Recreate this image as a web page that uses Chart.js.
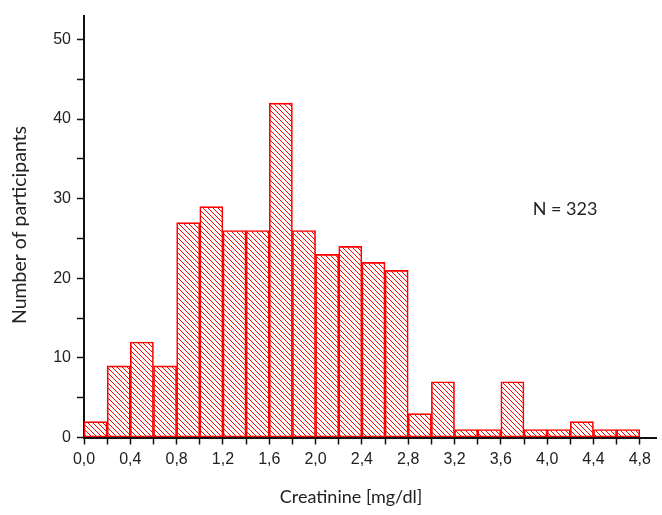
<!DOCTYPE html>
<html>
<head>
<meta charset="utf-8">
<script src="https://cdn.jsdelivr.net/npm/chart.js@4"></script>
<style>
  html, body { margin: 0; padding: 0; background: #fff; }
</style>
</head>
<body>
<canvas id="hist" width="662" height="515"></canvas>
<script>
// bin centres (bin width 0.2 mg/dl) and counts
var binCenters = [0.1, 0.3, 0.5, 0.7, 0.9, 1.1, 1.3, 1.5, 1.7, 1.9, 2.1, 2.3,
                  2.5, 2.7, 2.9, 3.1, 3.3, 3.5, 3.7, 3.9, 4.1, 4.3, 4.5, 4.7];
var counts = [2, 9, 12, 9, 27, 29, 26, 26, 42, 26, 23, 24,
              22, 21, 3, 7, 1, 1, 7, 1, 1, 2, 1, 1];
var xTitle = 'Creatinine [mg/dl]';
var yTitle = 'Number of participants';
var note = 'N = 323';

// diagonal hatch  \\\\  in red
function hatch(color) {
    var s = 5;
    var c = document.createElement('canvas');
    c.width = s; c.height = s;
    var g = c.getContext('2d');
    g.strokeStyle = color;
    g.lineWidth = 1;
    g.beginPath();
    g.moveTo(-1, -1); g.lineTo(s + 1, s + 1);
    g.moveTo(s - 1, -1); g.lineTo(s + 1, 1);
    g.moveTo(-1, s - 1); g.lineTo(1, s + 1);
    g.stroke();
    return g.createPattern(c, 'repeat');
}

var ctx = document.getElementById('hist').getContext('2d');

var labelsPlugin = {
    id: 'labels',
    afterDraw: function (chart) {
        var c = chart.ctx;
        c.save();
        c.fillStyle = '#222';
        c.textAlign = 'center';
        c.textBaseline = 'middle';
        c.font = '18px Lato';
        c.fillText(xTitle, 351, 497);
        c.fillText(note, 565, 209);
        c.font = '19.5px Lato';
        c.translate(20, 225);
        c.rotate(-Math.PI / 2);
        c.fillText(yTitle, 0, 0);
        c.restore();
    }
};

var points = binCenters.map(function (x, i) { return {x: x, y: counts[i]}; });

new Chart(ctx, {
    type: 'bar',
    data: {
        datasets: [{
            data: points,
            backgroundColor: hatch('#ff0000'),
            borderColor: '#ff0000',
            borderWidth: 1,
            borderSkipped: false,
            barPercentage: 1,
            categoryPercentage: 1
        }]
    },
    options: {
        responsive: false,
        animation: false,
        devicePixelRatio: 1,
        layout: { padding: { left: 0, right: 6, top: 9, bottom: 0 } },
        plugins: {
            legend: { display: false },
            tooltip: { enabled: false }
        },
        scales: {
            x: {
                type: 'linear',
                offset: false,
                min: 0,
                max: 4.94,
                afterFit: function (s) { s.height = 77.5; },
                border: { display: true, color: '#111', width: 2 },
                grid: { offset: false, drawOnChartArea: false, drawTicks: true, tickLength: 7, tickColor: '#111', tickWidth: 1.5 },
                ticks: {
                    stepSize: 0.2,
                    includeBounds: false,
                    autoSkip: false,
                    maxRotation: 0,
                    padding: 5,
                    color: '#222',
                    font: { family: 'Liberation Sans', size: 16 },
                    callback: function (v) {
                        var k = Math.round(v * 10);
                        if (k % 4 !== 0) return '';
                        return (k / 10).toFixed(1).replace('.', ',');
                    }
                }
            },
            y: {
                min: 0,
                max: 53,
                afterFit: function (s) { s.width = 84; },
                border: { display: true, color: '#111', width: 2 },
                grid: { drawOnChartArea: false, drawTicks: true, tickLength: 7, tickColor: '#111', tickWidth: 1.5 },
                ticks: {
                    stepSize: 5,
                    includeBounds: false,
                    padding: 6,
                    color: '#222',
                    font: { family: 'Liberation Sans', size: 16 },
                    callback: function (v) {
                        return v % 10 === 0 ? String(v) : '';
                    }
                }
            }
        }
    },
    plugins: [labelsPlugin]
});
</script>
</body>
</html>
